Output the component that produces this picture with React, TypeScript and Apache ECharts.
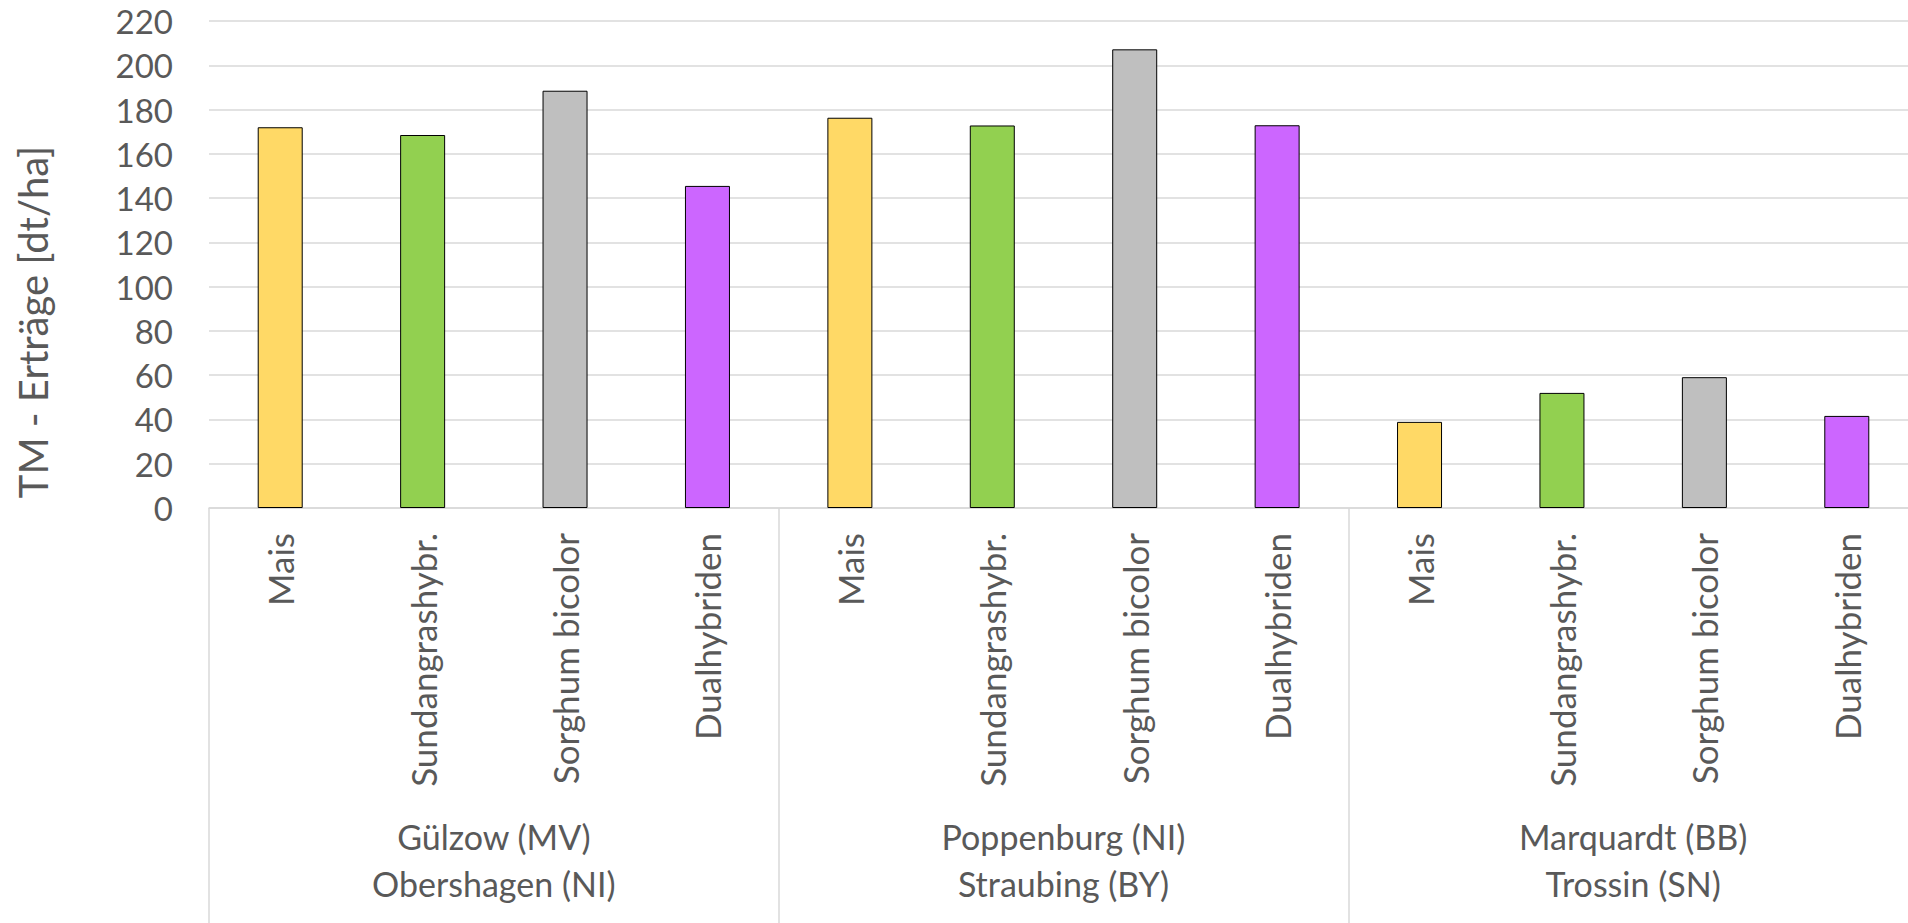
import React, { useEffect, useRef } from "react";
import * as echarts from "echarts";

// Crops shown at every site group
const crops = ["Mais", "Sundangrashybr.", "Sorghum bicolor", "Dualhybriden"];
const cropColors = ["#FFD966", "#92D050", "#BFBFBF", "#CC66FF"];

// Site groups (two locations per group)
const sites = [
  "Gülzow (MV)\nObershagen (NI)",
  "Poppenburg (NI)\nStraubing (BY)",
  "Marquardt (BB)\nTrossin (SN)",
];

// Dry matter yields in dt/ha, one value per crop
const yieldsGroup1 = [172, 168.5, 188.5, 145.5];
const yieldsGroup2 = [176.3, 172.8, 207.2, 172.9];
const yieldsGroup3 = [38.9, 52.0, 59.1, 41.6];

const yTicks = { min: 0, max: 220, interval: 20 };
const yTitle = "TM - Erträge [dt/ha]";

const FONT = "Lato";
const TEXT = "#595959";
const GRID = "#D9D9D9";

export default function App() {
  const ref = useRef<HTMLDivElement>(null);

  useEffect(() => {
    if (!ref.current) return;
    const chart = echarts.init(ref.current, undefined, { renderer: "svg" });

    const groups = [yieldsGroup1, yieldsGroup2, yieldsGroup3];
    const categories: string[] = [];
    const barData: any[] = [];
    groups.forEach((vals) => {
      vals.forEach((v, i) => {
        categories.push(crops[i]);
        barData.push({ value: v, itemStyle: { color: cropColors[i] } });
      });
    });

    chart.setOption({
      animation: false,
      backgroundColor: "#ffffff",
      textStyle: { fontFamily: FONT },
      grid: { left: 209, top: 21, width: 1709, height: 487, containLabel: false },
      xAxis: [
        {
          type: "category",
          data: categories,
          position: "bottom",
          axisLine: { show: true, lineStyle: { color: GRID, width: 1.5 } },
          axisTick: { show: false },
          splitLine: { show: false },
          axisLabel: {
            interval: 0,
            rotate: 90,
            margin: 25,
            fontSize: 35,
            color: TEXT,
            fontFamily: FONT,
          },
        },
        {
          type: "category",
          data: sites,
          position: "bottom",
          axisLine: { show: false },
          axisTick: {
            show: true,
            interval: 0,
            alignWithLabel: false,
            length: 420,
            lineStyle: { color: GRID, width: 1.5 },
          },
          splitLine: { show: false },
          axisLabel: {
            interval: 0,
            margin: 305,
            fontSize: 34,
            lineHeight: 47,
            color: TEXT,
            fontFamily: FONT,
            align: "center",
          },
        },
      ],
      yAxis: {
        type: "value",
        min: yTicks.min,
        max: yTicks.max,
        interval: yTicks.interval,
        axisLine: { show: false },
        axisTick: { show: false },
        splitLine: { show: true, lineStyle: { color: GRID, width: 1.5 } },
        axisLabel: { fontSize: 33, color: TEXT, margin: 36, fontFamily: FONT },
      },
      graphic: [
        {
          type: "text",
          x: 33,
          y: 322,
          rotation: Math.PI / 2,
          style: {
            text: yTitle,
            fontSize: 40,
            fontFamily: FONT,
            fill: TEXT,
            align: "center",
            verticalAlign: "middle",
          },
        },
      ],
      series: [
        {
          type: "bar",
          xAxisIndex: 0,
          barWidth: 45,
          data: barData,
          itemStyle: { borderColor: "#000000", borderWidth: 1 },
        },
      ],
    });

    return () => chart.dispose();
  }, []);

  // The plot runs slightly past the right edge of the visible frame
  return (
    <div
      style={{
        position: "fixed",
        left: 0,
        top: 0,
        width: "1908px",
        height: "923px",
        overflow: "hidden",
        background: "#ffffff",
      }}
    >
      <div ref={ref} style={{ width: "1930px", height: "923px" }} />
    </div>
  );
}
